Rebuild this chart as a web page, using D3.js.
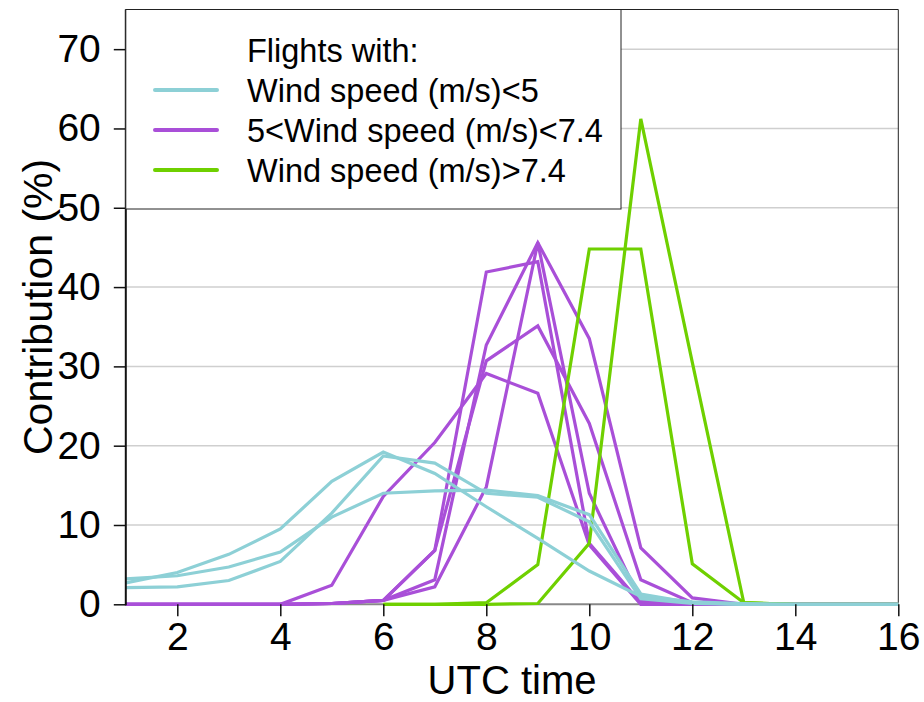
<!DOCTYPE html>
<html>
<head>
<meta charset="utf-8">
<script src="https://cdn.jsdelivr.net/npm/d3@7/dist/d3.min.js"></script>
<style>
  html, body { margin: 0; padding: 0; background: #fff; }
  svg { display: block; font-family: "Liberation Sans", Arial, Helvetica, sans-serif; }
</style>
</head>
<body>
<svg id="chart" width="924" height="702"></svg>
<script>
// Hours of the day (UTC) at which contributions are sampled
const hours = [1, 2, 3, 4, 5, 6, 7, 8, 9, 10, 11, 12, 13, 14, 15, 16];

// Flights with wind speed < 5 m/s (contribution, %)
const calm1 = [2.7, 4.0, 6.3, 9.5, 15.5, 19.2, 16.5, 12.3, 8.3, 4.2, 1.0, 0.3, 0.1, 0, 0, 0];
const calm2 = [3.2, 3.6, 4.7, 6.6, 11.0, 14.0, 14.3, 14.4, 13.7, 11.3, 1.3, 0.2, 0, 0, 0, 0];
const calm3 = [2.1, 2.2, 3.0, 5.4, 11.5, 18.7, 17.8, 14.0, 13.5, 10.4, 0.7, 0.1, 0, 0, 0, 0];

// Flights with 5 < wind speed < 7.4 m/s
const mid1 = [0, 0, 0, 0, 2.4, 13.6, 20.4, 29.1, 26.6, 7.5, 0, 0, 0, 0, 0, 0];
const mid2 = [0, 0, 0, 0, 0.1, 0.5, 6.8, 41.9, 43.2, 7.7, 0.2, 0, 0, 0, 0, 0];
const mid3 = [0, 0, 0, 0, 0.1, 0.5, 6.8, 30.7, 35.1, 22.8, 3.1, 0.2, 0, 0, 0, 0];
const mid4 = [0, 0, 0, 0, 0.1, 0.5, 3.1, 32.7, 45.6, 33.5, 7.1, 0.8, 0, 0, 0, 0];
const mid5 = [0, 0, 0, 0, 0.1, 0.5, 2.2, 14.8, 45.6, 14.0, 0.4, 0, 0, 0, 0, 0];

// Flights with wind speed > 7.4 m/s (recorded from 06 UTC onward)
const windy1 = [null, null, null, null, null, 0, 0, 0.2, 5.0, 44.8, 44.8, 5.1, 0.2, 0, 0, 0];
const windy2 = [null, null, null, null, null, 0, 0, 0, 0.1, 7.7, 61.2, 30.5, 0.2, 0, 0, 0];

// Axis ticks
const xTicks = [2, 4, 6, 8, 10, 12, 14, 16];
const yTicks = [0, 10, 20, 30, 40, 50, 60, 70];

// Legend entries
const legendTitle = "Flights with:";
const legendLabels = ["Wind speed (m/s)<5", "5<Wind speed (m/s)<7.4", "Wind speed (m/s)>7.4"];
const groupColors = ["#8dd0d6", "#a94fd8", "#6fd000"];

const groups = [
  { color: groupColors[1], series: [mid1, mid2, mid3, mid4, mid5] },
  { color: groupColors[2], series: [windy1, windy2] },
  { color: groupColors[0], series: [calm1, calm2, calm3] }
];

const svg = d3.select("#chart");
const plotLeft = 125.8, plotRight = 898.3, plotTop = 9.5, plotBottom = 604.3;

const x = d3.scaleLinear().domain([1, 16]).range([plotLeft, plotRight]);
const y = d3.scaleLinear().domain([0, 75]).range([plotBottom, plotTop]);

// Horizontal grid
svg.append("g")
  .selectAll("line")
  .data(yTicks.filter(v => v > 0))
  .join("line")
  .attr("x1", plotLeft).attr("x2", plotRight)
  .attr("y1", d => y(d)).attr("y2", d => y(d))
  .attr("stroke", "#cfcfcf")
  .attr("stroke-width", 1.5);

// Plot frame (top and right)
svg.append("path")
  .attr("d", `M${plotLeft},${plotTop}H${plotRight}V${plotBottom}`)
  .attr("fill", "none")
  .attr("stroke", "#222")
  .attr("stroke-width", 1);

// Bottom baseline
svg.append("line")
  .attr("x1", plotLeft).attr("x2", plotRight)
  .attr("y1", plotBottom).attr("y2", plotBottom)
  .attr("stroke", "#888")
  .attr("stroke-width", 2);

// Data lines
const line = d3.line()
  .defined(d => d != null)
  .x((d, i) => x(hours[i]))
  .y(d => y(d));

groups.forEach(g => {
  svg.append("g")
    .selectAll("path")
    .data(g.series)
    .join("path")
    .attr("d", line)
    .attr("fill", "none")
    .attr("stroke", g.color)
    .attr("stroke-width", 3.2)
    .attr("stroke-linejoin", "miter");
});

// Axes
const fontStack = "'Liberation Sans', Arial, Helvetica, sans-serif";
const xAxis = svg.append("g")
  .attr("transform", `translate(0,${plotBottom})`)
  .call(d3.axisBottom(x).tickValues(xTicks).tickSize(12).tickPadding(6).tickFormat(d3.format("d")));
xAxis.select(".domain").remove();
xAxis.selectAll(".tick line").attr("stroke", "#111").attr("stroke-width", 1.5);
xAxis.selectAll("text").attr("font-size", 39).attr("fill", "#000").attr("font-family", fontStack);

const yAxis = svg.append("g")
  .attr("transform", `translate(${plotLeft},0)`)
  .call(d3.axisLeft(y).tickValues(yTicks).tickSize(12).tickPadding(13).tickFormat(d3.format("d")));
yAxis.select(".domain").remove();
yAxis.selectAll(".tick line").attr("stroke", "#111").attr("stroke-width", 1.5);
yAxis.selectAll("text").attr("font-size", 39).attr("fill", "#000").attr("font-family", fontStack);

// Left axis line
svg.append("line")
  .attr("x1", plotLeft).attr("x2", plotLeft)
  .attr("y1", plotTop).attr("y2", plotBottom + 1)
  .attr("stroke", "#111")
  .attr("stroke-width", 2);

// Axis titles
svg.append("text")
  .attr("x", (plotLeft + plotRight) / 2)
  .attr("y", 694)
  .attr("text-anchor", "middle")
  .attr("font-size", 40)
  .attr("fill", "#000")
  .text("UTC time");

svg.append("text")
  .attr("transform", `translate(52,${(plotTop + plotBottom) / 2}) rotate(-90)`)
  .attr("text-anchor", "middle")
  .attr("font-size", 41)
  .attr("fill", "#000")
  .text("Contribution (%)");

// Legend
const legend = svg.append("g");
legend.append("rect")
  .attr("x", plotLeft).attr("y", plotTop)
  .attr("width", 621 - plotLeft).attr("height", 209 - plotTop)
  .attr("fill", "#fff")
  .attr("stroke", "#222")
  .attr("stroke-width", 1);

const rowY = [50, 90, 130, 170];
legend.append("text")
  .attr("x", 247).attr("y", rowY[0] + 11.5)
  .attr("font-size", 32.5)
  .attr("fill", "#000")
  .text(legendTitle);

legendLabels.forEach((label, i) => {
  legend.append("line")
    .attr("x1", 155).attr("x2", 217)
    .attr("y1", rowY[i + 1]).attr("y2", rowY[i + 1])
    .attr("stroke", groupColors[i])
    .attr("stroke-width", 4)
    .attr("stroke-linecap", "round");
  legend.append("text")
    .attr("x", 247).attr("y", rowY[i + 1] + 11.5)
    .attr("font-size", 32.5)
    .attr("fill", "#000")
    .text(label);
});
</script>
</body>
</html>
